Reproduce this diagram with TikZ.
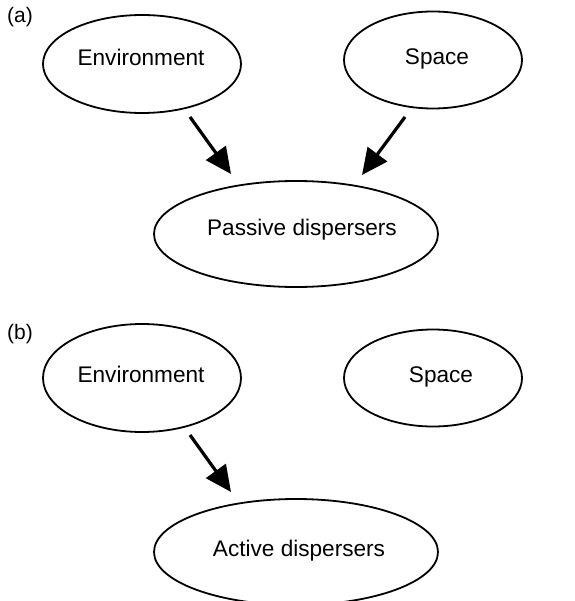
\documentclass[tikz,border=0pt]{standalone}
\usepackage{fontspec}
\setmainfont{Liberation Sans}
\usetikzlibrary{shapes.geometric,arrows.meta}
\begin{document}
\begin{tikzpicture}[x=1pt,y=-1pt,
    factor/.style ={ellipse, draw, line width=1.8pt, inner sep=0pt},
    factortext/.style ={font=\fontsize{22.6}{27}\selectfont, inner sep=0pt},
    panel/.style ={font=\fontsize{21}{25}\selectfont, inner sep=0pt},
    effect/.style ={line width=3.2pt, -{Triangle[length=26pt,width=24pt]}}]
   \useasboundingbox (0,0) rectangle (574,601);
   % (a)
   \node[panel] (la) at (20,17) {(a)};
   \node[factor, minimum width=198pt, minimum height=98pt] (envA) at (142,64) {};
   \node[factortext] (envAt) at (141,57) {Environment};
   \node[factor, minimum width=178pt, minimum height=97pt] (spaceA) at (433,60) {};
   \node[factortext] (spaceAt) at (437,59) {Space};
   \node[factor, minimum width=284pt, minimum height=106pt] (passive) at (296,234) {};
   \node[factortext] (passivet) at (302,230) {Passive dispersers};
   \coordinate (a1s) at (190,117);
   \coordinate (a1e) at (231,174);
   \coordinate (a2s) at (405,117);
   \coordinate (a2e) at (362,175);
   \draw[effect] (a1s) to (a1e);
   \draw[effect] (a2s) to (a2e);
   % (b)
   \node[panel] (lb) at (20,334) {(b)};
   \node[factor, minimum width=198pt, minimum height=108pt] (envB) at (142,378) {};
   \node[factortext] (envBt) at (141,374) {Environment};
   \node[factor, minimum width=178pt, minimum height=97pt] (spaceB) at (433,378) {};
   \node[factortext] (spaceBt) at (441,377) {Space};
   \node[factor, minimum width=284pt, minimum height=106pt] (active) at (296,552) {};
   \node[factortext] (activet) at (299,551) {Active dispersers};
   \coordinate (b1s) at (190,435);
   \coordinate (b1e) at (231,492);
   \draw[effect] (b1s) to (b1e);
\end{tikzpicture}
\end{document}
